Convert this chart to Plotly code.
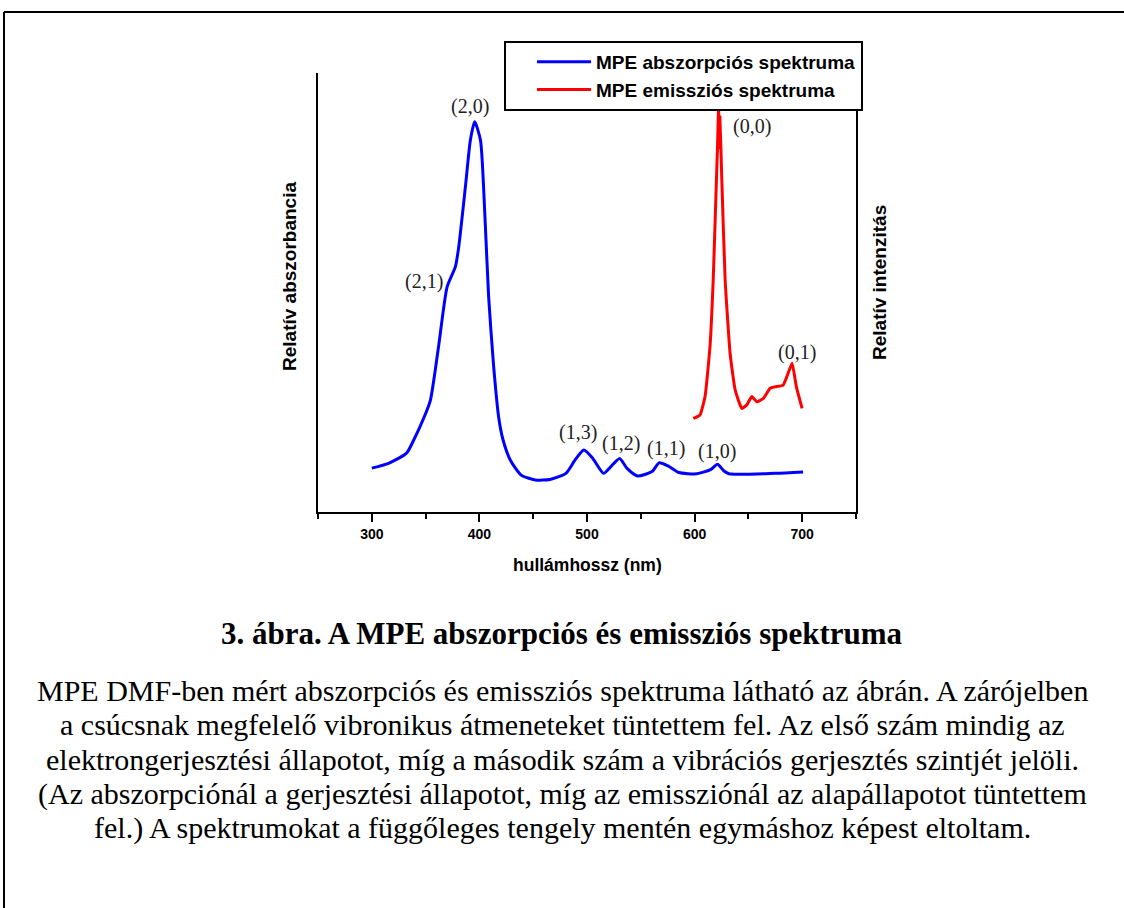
import plotly.graph_objects as go

# ---------------- data ----------------
abs_nm = [300, 315.6, 332.3, 339, 348.3, 354.5, 362, 370, 377.7, 380.8, 387, 391.6, 395.6,
          401, 405, 408.6, 413, 418, 422, 428.8, 438.8, 452, 465.5, 480.4, 488.8, 497.1,
          505.4, 515.4, 522, 530.3, 537, 547, 560.4, 567, 575.3, 585.3, 602, 615.3, 621.3,
          627, 632, 675, 700.8]
abs_val = [0.100, 0.111, 0.134, 0.164, 0.214, 0.255, 0.376, 0.513, 0.559, 0.604, 0.741, 0.847, 0.889,
           0.847, 0.681, 0.490, 0.339, 0.214, 0.164, 0.118, 0.084, 0.073, 0.074, 0.088, 0.118, 0.141,
           0.122, 0.088, 0.103, 0.122, 0.100, 0.082, 0.092, 0.112, 0.105, 0.090, 0.087, 0.097, 0.109,
           0.094, 0.087, 0.088, 0.091]

em_nm = [598.8, 605, 609.7, 614.3, 617.3, 619.8, 621.3, 622.3, 622.9, 623.5, 625.3, 628.4, 633,
         637.7, 643.9, 648.5, 653.2, 657.8, 664, 670.2, 674.9, 682.3, 686.9, 690.6, 694.6, 699.9]
em_val = [0.213, 0.221, 0.263, 0.377, 0.528, 0.718, 0.832, 0.920, 0.830, 0.900, 0.756, 0.528, 0.361,
          0.278, 0.236, 0.244, 0.263, 0.251, 0.259, 0.282, 0.285, 0.289, 0.316, 0.339, 0.285, 0.236]

peak_labels = ["(2,0)", "(2,1)", "(1,3)", "(1,2)", "(1,1)", "(1,0)", "(0,0)", "(0,1)"]
peak_label_nm = [391.3, 348.5, 491.6, 531.6, 573.4, 620.8, 653.3, 695.2]
peak_label_val = [0.923, 0.524, 0.180, 0.155, 0.144, 0.137, 0.879, 0.364]

x_ticks = [300, 400, 500, 600, 700]
x_minor_ticks = [250, 350, 450, 550, 650, 750]
series_names = ["MPE abszorpciós spektruma", "MPE emissziós spektruma"]

caption = "3. ábra. A MPE abszorpciós és emissziós spektruma"
paragraph = [
    "MPE DMF-ben mért abszorpciós és emissziós spektruma látható az ábrán. A zárójelben",
    "a csúcsnak megfelelő vibronikus átmeneteket tüntettem fel. Az első szám mindig az",
    "elektrongerjesztési állapotot, míg a második szám a vibrációs gerjesztés szintjét jelöli.",
    "(Az abszorpciónál a gerjesztési állapotot, míg az emissziónál az alapállapotot tüntettem",
    "fel.) A spektrumokat a függőleges tengely mentén egymáshoz képest eltoltam.",
]

W, H = 1124, 908
SANS = "Liberation Sans, Arial, sans-serif"
SERIF = "Liberation Serif, Times New Roman, serif"

fig = go.Figure()
fig.add_trace(go.Scatter(x=abs_nm, y=abs_val, mode="lines", name=series_names[0],
                         line=dict(color="#0000ff", width=3, shape="spline", smoothing=0.6)))
fig.add_trace(go.Scatter(x=em_nm, y=em_val, mode="lines", name=series_names[1], yaxis="y2",
                         line=dict(color="#ff0000", width=3, shape="spline", smoothing=0.4)))

annotations = []
for t, xv, yv in zip(peak_labels, peak_label_nm, peak_label_val):
    annotations.append(dict(x=xv, y=yv, xref="x", yref="y", text=t, showarrow=False,
                            xanchor="center", yanchor="middle",
                            font=dict(family=SERIF, size=20, color="#222222")))


def pann(px, py, text, size, family=SANS, angle=0):
    return dict(x=px / W, y=1 - py / H, xref="paper", yref="paper", text=text,
                textangle=angle, showarrow=False, xanchor="center", yanchor="middle",
                font=dict(family=family, size=size, color="black"))


# axis titles
annotations.append(pann(289, 277, "<b>Relatív abszorbancia</b>", 19, angle=-90))
annotations.append(pann(879, 283, "<b>Relatív intenzitás</b>", 19, angle=-90))
annotations.append(pann(587, 565, "<b>hullámhossz (nm)</b>", 17.5))

annotations.append(pann(562, 633, "<b>" + caption + "</b>", 31, family=SERIF))
for i, line in enumerate(paragraph):
    annotations.append(pann(562, 690 + 34.5 * i, line, 30, family=SERIF))

shapes = [
    dict(type="line", xref="paper", yref="paper", x0=4 / W, x1=1.0, y0=1 - 12 / H, y1=1 - 12 / H,
         line=dict(color="black", width=2)),
    dict(type="line", xref="paper", yref="paper", x0=4 / W, x1=4 / W, y0=1 - 12 / H, y1=0,
         line=dict(color="black", width=2)),
]

fig.update_layout(
    width=W, height=H,
    margin=dict(l=0, r=0, t=0, b=0),
    paper_bgcolor="white", plot_bgcolor="white",
    showlegend=True,
    legend=dict(x=504 / W, y=1 - 41 / H, xanchor="left", yanchor="top",
                bgcolor="white", bordercolor="black", borderwidth=2,
                font=dict(family=SANS, size=19, color="black", weight="bold"),
                itemwidth=54, indentation=26, tracegroupgap=0),
    xaxis=dict(domain=[318 / W, 856 / W], range=[250, 750], showline=True, linecolor="black",
               linewidth=2, ticks="outside", ticklen=8, tickwidth=2, tickcolor="black",
               tickvals=x_ticks, showgrid=False, zeroline=False,
               tickfont=dict(family=SANS, size=14, color="black", weight="bold"),
               minor=dict(tickvals=x_minor_ticks, ticks="outside", ticklen=5,
                          tickwidth=2, tickcolor="black", showgrid=False)),
    yaxis=dict(domain=[1 - 512 / H, 1 - 73 / H], range=[0, 1], showline=True, linecolor="black",
               linewidth=2, showticklabels=False, ticks="", showgrid=False, zeroline=False),
    yaxis2=dict(domain=[1 - 512 / H, 1 - 73 / H], range=[0, 1], overlaying="y", side="right",
                anchor="x", showline=True, linecolor="black", linewidth=2, showticklabels=False,
                ticks="", showgrid=False, zeroline=False),
    annotations=annotations,
    shapes=shapes,
)

fig.write_html("out.html", config={"displayModeBar": False},
               post_script="document.body.style.margin='0';document.body.style.overflow='hidden';")
